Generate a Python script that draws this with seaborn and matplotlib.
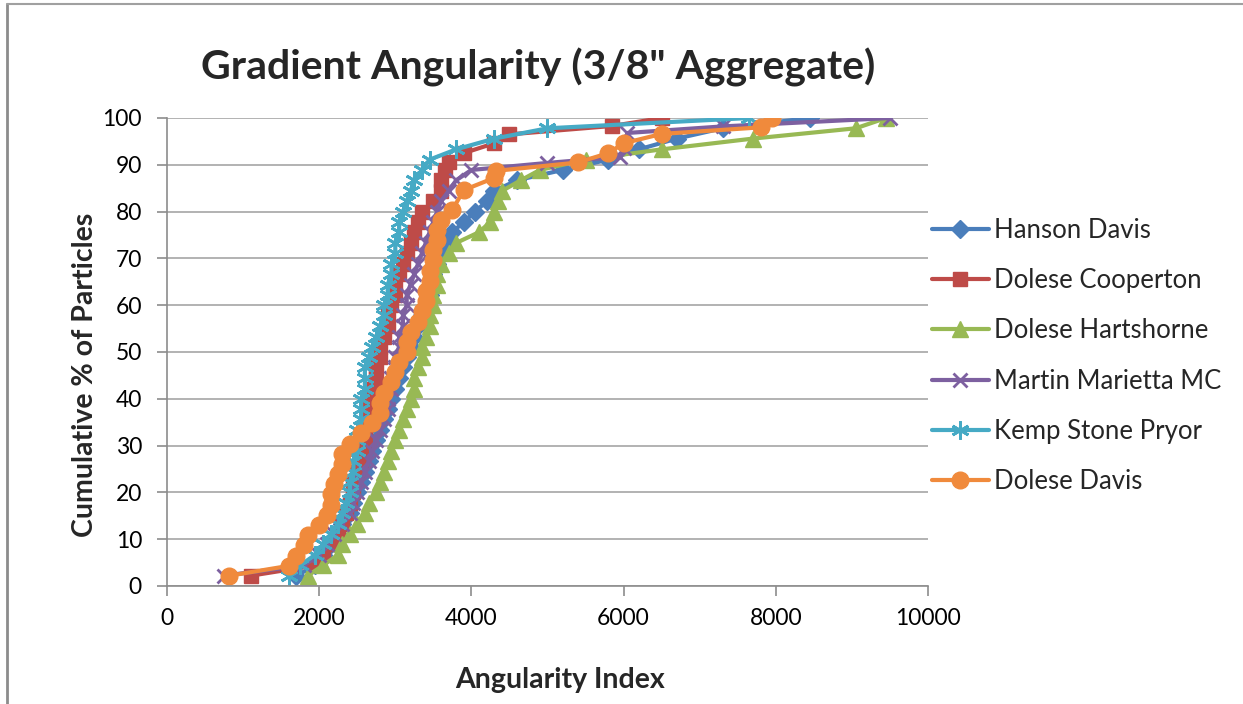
import matplotlib.pyplot as plt
import seaborn as sns
from matplotlib.lines import Line2D

# cumulative % of particles
hanson_x = [1700, 1950, 2050, 2150, 2250, 2300, 2400, 2450, 2500, 2550, 2600, 2650,
            2700, 2750, 2800, 2850, 2900, 2950, 3000, 3050, 3100, 3150, 3200, 3250,
            3300, 3350, 3400, 3450, 3450, 3500, 3550, 3600, 3650, 3750, 3900, 4050,
            4200, 4300, 4600, 5200, 5800, 6200, 6700, 7300, 8450]
hanson_y = [2.2, 4.4, 6.7, 8.9, 11.1, 13.3, 15.6, 17.8, 20.0, 22.2, 24.4, 26.7,
            28.9, 31.1, 33.3, 35.6, 37.8, 40.0, 42.2, 44.4, 46.7, 48.9, 51.1, 53.3,
            55.6, 57.8, 60.0, 62.2, 64.4, 66.7, 68.9, 71.1, 73.3, 75.6, 77.8, 80.0,
            82.2, 84.4, 86.7, 88.9, 91.1, 93.3, 95.6, 97.8, 100.0]

cooperton_x = [1100, 1950, 2050, 2150, 2250, 2300, 2350, 2400, 2450, 2450, 2500, 2550,
               2550, 2600, 2600, 2650, 2650, 2700, 2700, 2750, 2750, 2800, 2800, 2850,
               2900, 2900, 2950, 3000, 3000, 3050, 3100, 3150, 3200, 3250, 3300, 3350,
               3500, 3600, 3600, 3650, 3700, 3900, 4300, 4500, 5850, 6500]
cooperton_y = [2.2, 4.4, 6.7, 8.9, 11.1, 13.3, 15.6, 17.8, 20.0, 22.2, 24.4, 26.7,
               28.9, 31.1, 33.3, 35.6, 37.8, 40.0, 42.2, 44.4, 46.7, 48.9, 51.1, 53.3,
               55.6, 57.8, 60.0, 62.2, 64.4, 66.7, 68.9, 71.1, 73.3, 75.6, 77.8, 80.0,
               82.2, 84.4, 86.7, 88.9, 90.5, 92.5, 94.6, 96.5, 98.3, 100.0]

hartshorne_x = [1850, 2050, 2250, 2300, 2400, 2500, 2600, 2650, 2750, 2800, 2850, 2900,
                2950, 3000, 3050, 3100, 3150, 3200, 3250, 3250, 3300, 3350, 3350, 3400,
                3450, 3450, 3500, 3500, 3550, 3550, 3600, 3700, 3800, 4100, 4250, 4300,
                4350, 4400, 4650, 4900, 5500, 6500, 7700, 9050, 9450]
hartshorne_y = [2.2, 4.4, 6.7, 8.9, 11.1, 13.3, 15.6, 17.8, 20.0, 22.2, 24.4, 26.7,
                28.9, 31.1, 33.3, 35.6, 37.8, 40.0, 42.2, 44.4, 46.7, 48.9, 51.1, 53.3,
                55.6, 57.8, 60.0, 62.2, 64.4, 66.7, 68.9, 71.1, 73.3, 75.6, 77.8, 80.0,
                82.2, 84.4, 86.7, 88.9, 91.1, 93.3, 95.6, 97.8, 100.0]

martin_x = [750, 1800, 2000, 2100, 2200, 2300, 2400, 2450, 2500, 2550, 2600, 2650,
            2700, 2750, 2800, 2850, 2900, 2900, 2950, 2950, 3000, 3000, 3050, 3050,
            3100, 3100, 3150, 3150, 3200, 3250, 3300, 3350, 3400, 3450, 3500, 3550,
            3600, 3700, 3800, 4000, 5000, 5950, 6000, 6050, 7300, 9500]
martin_y = [2.2, 4.4, 6.7, 8.9, 11.1, 13.3, 15.6, 17.8, 20.0, 22.2, 24.4, 26.7,
            28.9, 31.1, 33.3, 35.6, 37.8, 40.0, 42.2, 44.4, 46.7, 48.9, 51.1, 53.3,
            55.6, 57.8, 60.0, 62.2, 64.4, 66.7, 68.9, 71.1, 73.3, 75.6, 77.8, 80.0,
            82.2, 84.4, 86.7, 88.9, 90.4, 91.7, 93.5, 96.8, 98.2, 100.0]

kemp_x = [1600, 1750, 1950, 2050, 2150, 2250, 2300, 2350, 2400, 2400, 2450, 2450,
          2500, 2500, 2500, 2550, 2550, 2550, 2600, 2600, 2600, 2650, 2700, 2750,
          2800, 2850, 2850, 2900, 2900, 2950, 2950, 3000, 3000, 3050, 3050, 3100,
          3150, 3200, 3250, 3350, 3450, 3800, 4300, 5000, 7650]
kemp_y = [2.2, 4.4, 6.7, 8.9, 11.1, 13.3, 15.6, 17.8, 20.0, 22.2, 24.4, 26.7,
          28.9, 31.1, 33.3, 35.6, 37.8, 40.0, 42.2, 44.4, 46.7, 48.9, 51.1, 53.3,
          55.6, 57.8, 60.0, 62.2, 64.4, 66.7, 68.9, 71.1, 73.3, 75.6, 77.8, 80.0,
          82.2, 84.4, 86.7, 88.9, 91.1, 93.3, 95.6, 97.8, 100.0]

davis_x = [820, 1600, 1700, 1800, 1850, 2000, 2100, 2150, 2150, 2200, 2250, 2300,
           2300, 2400, 2550, 2700, 2800, 2800, 2850, 2950, 3000, 3050, 3150, 3150,
           3200, 3300, 3350, 3400, 3400, 3450, 3450, 3500, 3500, 3550, 3550, 3600,
           3750, 3900, 4300, 4320, 5400, 5800, 6000, 6500, 7800, 7950]
davis_y = [2.2, 4.3, 6.5, 8.7, 10.9, 13.0, 15.2, 17.4, 19.6, 21.7, 23.9, 26.1,
           28.3, 30.4, 32.6, 34.8, 37.0, 39.1, 41.3, 43.5, 45.7, 47.8, 50.0, 52.2,
           54.3, 56.5, 58.7, 60.9, 63.0, 65.2, 67.4, 69.6, 71.7, 73.9, 76.1, 78.3,
           80.4, 84.6, 87.2, 88.7, 90.5, 92.5, 94.6, 96.6, 98.0, 100.0]

names = ["Hanson Davis", "Dolese Cooperton", "Dolese Hartshorne",
         "Martin Marietta MC", "Kemp Stone Pryor", "Dolese Davis"]
xs = [hanson_x, cooperton_x, hartshorne_x, martin_x, kemp_x, davis_x]
ys = [hanson_y, cooperton_y, hartshorne_y, martin_y, kemp_y, davis_y]
colors = ["#4A7EBB", "#BE4B48", "#98B954", "#7D60A0", "#46AAC5", "#F08A3C"]
markers = ["D", "s", "^", "x", (6, 2, 0), "o"]
msizes = [9, 10, 11, 10, 13, 12]
mews = [1, 1, 1, 2, 2, 1]

sns.set_style("white")
plt.rcParams['font.family'] = ['Lato', 'DejaVu Sans']

fig = plt.figure(figsize=(12.43, 7.04), dpi=100)
ax = fig.add_axes([167 / 1243, 118 / 704, 761 / 1243, 468 / 704])

for name, x, y, c, m, ms, mw in zip(names, xs, ys, colors, markers, msizes, mews):
    sns.lineplot(x=x, y=y, ax=ax, color=c, marker=m, markersize=ms,
                 markeredgecolor=c, markeredgewidth=mw, linewidth=3,
                 sort=False, estimator=None, label=name)

ax.set_xlim(0, 10000)
ax.set_ylim(0, 100)
ax.set_xticks(range(0, 10001, 2000))
ax.set_yticks(range(0, 101, 10))
ax.yaxis.grid(True, color="#a6a6a6", linewidth=1.2)
ax.xaxis.grid(False)
for s in ["top", "right"]:
    ax.spines[s].set_visible(False)
for s in ["left", "bottom"]:
    ax.spines[s].set_color("#8c8c8c")
    ax.spines[s].set_linewidth(1.2)
ax.tick_params(axis="both", direction="out", length=7, width=1.2, color="#8c8c8c",
               labelsize=16.5, labelcolor="black", pad=11)
ax.tick_params(axis="y", left=True)
ax.tick_params(axis="x", bottom=True, pad=9)
ax.set_xlabel("")
ax.set_ylabel("")

handles, labels = ax.get_legend_handles_labels()
if ax.get_legend() is not None:
    ax.get_legend().remove()
fig.legend(handles, labels, loc="upper left", bbox_to_anchor=(932 / 1243, 1 - 218 / 704),
           frameon=False, fontsize=18.5, handlelength=2.2, handletextpad=0.2,
           labelspacing=0.98, borderpad=0, borderaxespad=0)

fig.text(538 / 1243, 1 - 67 / 704, "Gradient Angularity (3/8\" Aggregate)",
         ha="center", va="center", fontsize=29.5, fontweight="bold")
fig.text(560 / 1243, 1 - 680 / 704, "Angularity Index", ha="center", va="center",
         fontsize=20.5, fontweight="bold")
fig.text(85 / 1243, 1 - 375 / 704, "Cumulative % of Particles", ha="center", va="center",
         rotation=90, fontsize=20.5, fontweight="bold")

# chart frame edges
fig.add_artist(Line2D([7 / 1243, 7 / 1243], [0, 1 - 4 / 704], color="#8c8c8c", lw=2))
fig.add_artist(Line2D([7 / 1243, 1], [1 - 4 / 704, 1 - 4 / 704], color="#a0a0a0", lw=1.5))

fig.savefig("out.png", dpi=100)
